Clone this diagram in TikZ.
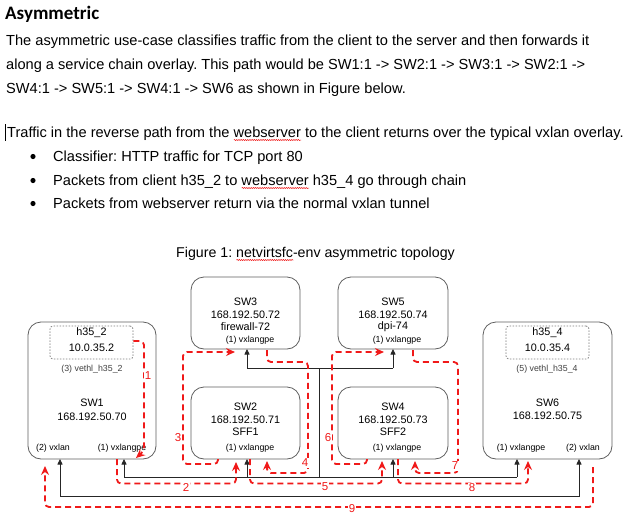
\documentclass[tikz,border=0pt]{standalone}
\usepackage{fontspec}
\setmainfont{Liberation Sans}
\newfontfamily\headfont{Carlito}
\usetikzlibrary{arrows.meta,decorations.pathmorphing}
\definecolor{rd}{RGB}{240,25,25}
\definecolor{bx}{RGB}{95,95,95}
\newsavebox\sqbox
\newcommand\squig[1]{\sbox\sqbox{#1}\edef\sqw{\the\wd\sqbox}\rlap{\tikz[baseline=0pt]\draw[rd,line width=0.5pt,decorate,decoration={snake,amplitude=0.6pt,segment length=2.2pt}] (0pt,-3pt)--(\sqw,-3pt);}\usebox\sqbox}
\frenchspacing
\begin{document}
\begin{tikzpicture}[x=1pt,y=-1pt,
  txt/.style={inner sep=0pt,anchor=base west,font=\fontsize{14.6}{16}\selectfont},
  swbox/.style={draw=bx,line width=0.8pt,rounded corners=13pt,inner sep=0pt},
  hostbox/.style={draw=bx!80,dash pattern=on 1.5pt off 1.5pt,line width=0.8pt,rounded corners=3pt,inner sep=0pt},
  lbl/.style={inner sep=0pt,font=\fontsize{10.8}{12}\selectfont},
  port/.style={inner sep=0pt,font=\fontsize{8.8}{10}\selectfont},
  tipB/.tip={Triangle[length=5.5pt,width=5pt]},
  wire/.style={line width=0.8pt,draw=black!85},
  blk/.style={wire,-tipB},
  rpath/.style={draw=rd,line width=1.8pt,dash pattern=on 6pt off 4pt,rounded corners=4pt,-{Stealth[length=9pt,width=8pt,inset=3pt]}},
  num/.style={text=rd,inner sep=0.8pt,fill=white,font=\fontsize{11.5}{12}\selectfont}]
\useasboundingbox (0,0) rectangle (630,520);
\fill[white] (0,0) rectangle (630,520);
% ---------- text ----------
\node[txt,font=\headfont\bfseries\fontsize{19}{22}\selectfont] (head) at (5,19) {Asymmetric};
\node[txt] (l1) at (6,45) {The asymmetric use-case classifies traffic from the client to the server and then forwards it};
\node[txt] (l2) at (6,69) {along a service chain overlay. This path would be SW1:1 -> SW2:1 -> SW3:1 -> SW2:1 ->};
\node[txt] (l3) at (6,93) {SW4:1 -> SW5:1 -> SW4:1 -> SW6 as shown in Figure below.};
\draw[line width=1pt] (5.5,124) -- (5.5,141);
\node[txt] (l4) at (7,137) {Traffic in the reverse path from the \squig{webserver} to the client returns over the typical vxlan overlay.};
\fill (33,156.5) circle (2.6pt);
\fill (33,180.5) circle (2.6pt);
\fill (33,203.5) circle (2.6pt);
\node[txt] (b1) at (53,161) {Classifier: HTTP traffic for TCP port 80};
\node[txt] (b2) at (53,185) {Packets from client h35\_2 to \squig{webserver} h35\_4 go through chain};
\node[txt] (b3) at (53,208) {Packets from webserver return via the normal vxlan tunnel};
\node[inner sep=0pt,anchor=base,font=\fontsize{14.2}{16}\selectfont] (cap) at (315.5,257) {Figure 1: \squig{netvirtsfc}-env asymmetric topology};
% ---------- boxes ----------
\node[swbox,minimum width=128pt,minimum height=137pt] (sw1) at (92,390.5) {};
\node[hostbox,minimum width=83pt,minimum height=33pt] (h1) at (91.5,342.5) {};
\node[swbox,minimum width=129pt,minimum height=137pt] (sw6) at (547.5,390.5) {};
\node[hostbox,minimum width=83pt,minimum height=33pt] (h6) at (547.5,342.5) {};
\node[swbox,minimum width=109pt,minimum height=72pt] (sw3) at (245.5,313) {};
\node[swbox,minimum width=109pt,minimum height=72pt] (sw2) at (245.5,423) {};
\node[swbox,minimum width=110pt,minimum height=72pt] (sw5) at (393,313) {};
\node[swbox,minimum width=110pt,minimum height=72pt] (sw4) at (393,423) {};
% ---------- box texts ----------
\node[lbl] (h1a) at (91.5,333) {h35\_2};
\node[lbl] (h1b) at (91.5,348) {10.0.35.2};
\node[port,text=black!75] (h1p) at (92,369) {(3) vethl\_h35\_2};
\node[lbl] (sw1a) at (92,403) {SW1};
\node[lbl] (sw1b) at (92,417) {168.192.50.70};
\node[port] (sw1q) at (53,448) {(2) vxlan};
\node[port] (sw1p) at (122,448) {(1) vxlangpe};
\node[lbl] (h6a) at (547.5,333) {h35\_4};
\node[lbl] (h6b) at (547.5,348) {10.0.35.4};
\node[port,text=black!75] (h6p) at (547,369) {(5) vethl\_h35\_4};
\node[lbl] (sw6a) at (547.5,403) {SW6};
\node[lbl] (sw6b) at (547.5,416) {168.192.50.75};
\node[port] (sw6p) at (521,448) {(1) vxlangpe};
\node[port] (sw6q) at (583,448) {(2) vxlan};
\node[lbl] (sw3a) at (245.5,302) {SW3};
\node[lbl] (sw3b) at (245.5,314.5) {168.192.50.72};
\node[lbl] (sw3c) at (245.5,327) {firewall-72};
\node[port] (sw3p) at (250,340) {(1) vxlangpe};
\node[lbl] (sw2a) at (245.5,407) {SW2};
\node[lbl] (sw2b) at (245.5,419.5) {168.192.50.71};
\node[lbl] (sw2c) at (245.5,432) {SFF1};
\node[port] (sw2p) at (250,448) {(1) vxlangpe};
\node[lbl] (sw5a) at (393,302) {SW5};
\node[lbl] (sw5b) at (393,314.5) {168.192.50.74};
\node[lbl] (sw5c) at (393,327) {dpi-74};
\node[port] (sw5p) at (397,340) {(1) vxlangpe};
\node[lbl] (sw4a) at (393,407) {SW4};
\node[lbl] (sw4b) at (393,419.5) {168.192.50.73};
\node[lbl] (sw4c) at (393,432) {SFF2};
\node[port] (sw4p) at (397,448) {(1) vxlangpe};
% ---------- black connectors ----------
\coordinate (p1) at (124,459);
\coordinate (p2) at (247,459);
\coordinate (p4) at (393,459);
\coordinate (p6) at (517,459);
\coordinate (p3) at (247,349);
\coordinate (p5) at (393,349);
\coordinate (v1) at (60,459);
\coordinate (v6) at (579,459);
\coordinate (busM) at (319,477);
\coordinate (upM) at (319,368);
\draw[wire] (p1|-busM) -- (p6|-busM);
\draw[blk] (p1|-busM) -- (p1);
\draw[blk] (p2|-busM) -- (p2);
\draw[blk] (p4|-busM) -- (p4);
\draw[blk] (p6|-busM) -- (p6);
\draw[wire] (busM) -- (upM);
\draw[wire] (p3|-upM) -- (p5|-upM);
\draw[blk] (p3|-upM) -- (p3);
\draw[blk] (p5|-upM) -- (p5);
\draw[wire,tipB-tipB] (v1) -- ++(0,37) -| (v6);
% ---------- red chain paths ----------
\draw[rpath] (h1.east |- 0,341) -- (144,341) -- (144,451) -- (136,458);
\node[num] (n1) at (148,376) {1};
\draw[rpath] (117,459) -- (117,483.5) -- (236,483.5) -- (236,462);
\node[num] (n2) at (186,487) {2};
\draw[rpath] (218,459) -- (218,464) -- (183,464) -- (183,352) -- (235,352);
\node[num] (n3) at (178,438) {3};
\draw[rpath] (267,350) -- (267,362) -- (308,362) -- (308,473) -- (267,473) -- (267,461);
\node[num] (n4) at (305,463) {4};
\draw[rpath] (250,459) -- (250,483.5) -- (382,483.5) -- (382,461);
\node[num] (n5) at (325,487) {5};
\draw[rpath] (367,459) -- (367,464) -- (332,464) -- (332,352) -- (384,352);
\node[num] (n6) at (328,438) {6};
\draw[rpath] (413,350) -- (413,362) -- (458,362) -- (458,473) -- (415,473) -- (415,461);
\node[num] (n7) at (455,466) {7};
\draw[rpath] (398,459) -- (398,483.5) -- (528,483.5) -- (528,461);
\node[num] (n8) at (472,488) {8};
\draw[rpath] (593,467) -- (593,507) -- (45,507) -- (45,466);
\node[num] (n9) at (352,509) {9};
\end{tikzpicture}
\end{document}
